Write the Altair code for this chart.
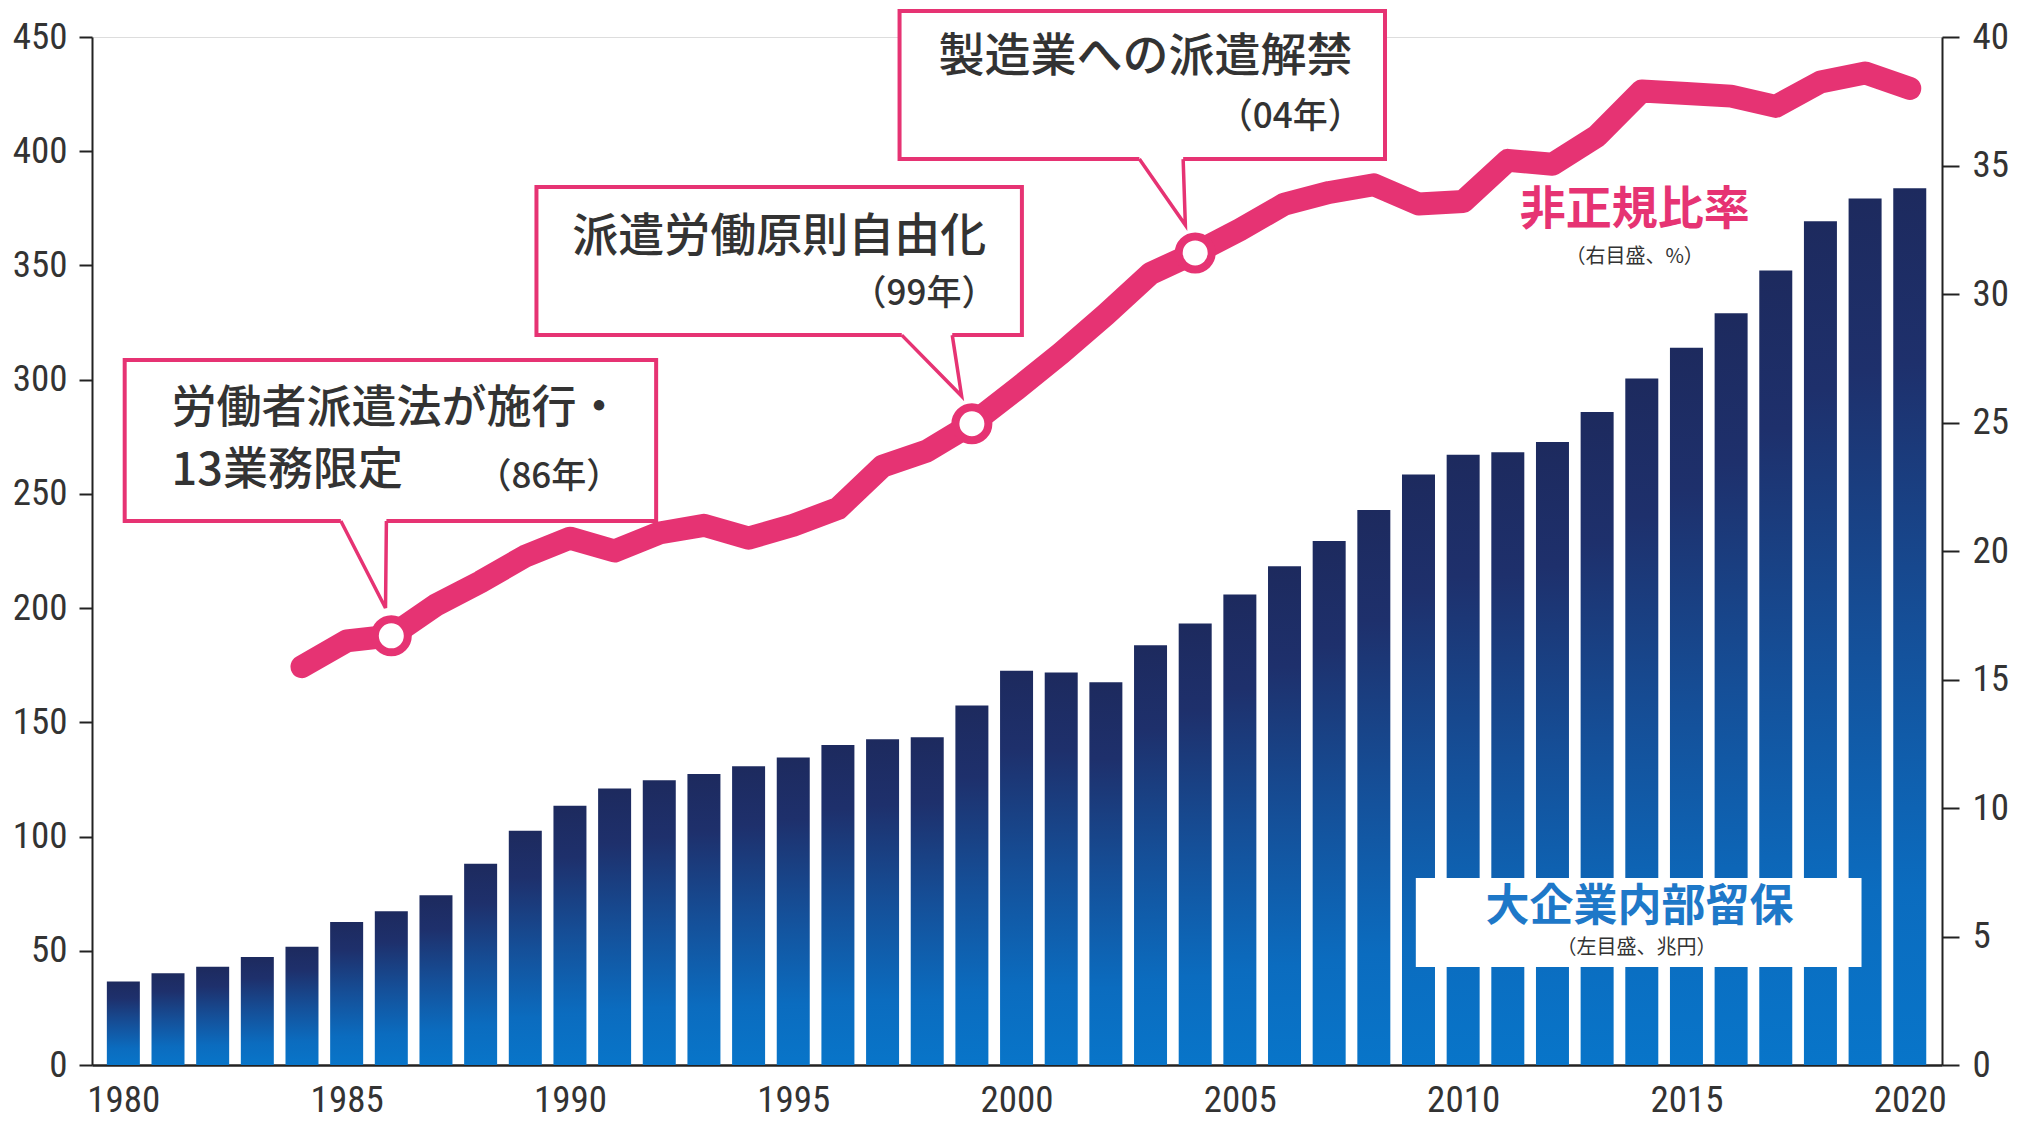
import altair as alt
import pandas as pd

# ---------------- data ----------------
years = list(range(1980, 2021))
retained = [36.5, 40.2, 43.0, 47.3, 51.8, 62.6, 67.3, 74.3, 88.1, 102.5,
            113.5, 121.0, 124.6, 127.4, 130.8, 134.6, 140.1, 142.6, 143.5, 157.4,
            172.6, 171.8, 167.6, 183.7, 193.3, 206.0, 218.3, 229.4, 243.0, 258.5,
            267.1, 268.2, 272.7, 285.8, 300.5, 314.0, 329.1, 347.8, 369.3, 379.3, 383.8]

ratio_years = list(range(1984, 2021))
ratio = [15.5, 16.5, 16.7, 17.9, 18.8, 19.8, 20.5, 20.0, 20.7, 21.0,
         20.5, 21.0, 21.65, 23.3, 23.9, 24.95, 26.3, 27.7, 29.2, 30.8,
         31.6, 32.5, 33.5, 33.95, 34.25, 33.5, 33.6, 35.2, 35.05, 36.15,
         37.9, 37.8, 37.7, 37.3, 38.25, 38.6, 38.0]

marker_years = [1986, 1999, 2004]

x_ticks = [1980, 1985, 1990, 1995, 2000, 2005, 2010, 2015, 2020]
left_ticks = [0, 50, 100, 150, 200, 250, 300, 350, 400, 450]
right_ticks = [0, 5, 10, 15, 20, 25, 30, 35, 40]

# callouts (in data units: year on x, percent on right axis)
box_id = ["86", "99", "04"]
box_x1 = [1980.03, 1989.25, 1997.38]
box_x2 = [1991.93, 2000.12, 2008.25]
box_y1 = [21.17, 28.40, 35.25]
box_y2 = [27.43, 34.16, 41.01]
ptr_left_x = [1984.87, 1997.43, 2002.75]
ptr_tip_x = [1985.87, 1998.77, 2003.78]
ptr_tip_y = [17.78, 26.03, 32.68]
ptr_right_x = [1985.89, 1998.56, 2003.73]

left_texts = ["労働者派遣法が施行・", "13業務限定"]
left_texts_x = [1981.08, 1981.08]
left_texts_y = [25.53, 23.11]

right_texts = ["派遣労働原則自由化", "製造業への派遣解禁"]
right_texts_x = [1999.32, 2007.52]
right_texts_y = [32.22, 39.22]

year_notes = ["（86年）", "（99年）", "（04年）"]
year_notes_x = [1991.15, 1999.55, 2007.75]
year_notes_y = [22.88, 30.00, 36.89]

# ---------------- styles ----------------
PINK = "#E63373"
BLUE_TXT = "#1E78C8"
DARK = "#333333"
JP = "Noto Sans CJK JP"
NUM = "Liberation Sans Narrow, Roboto Condensed, Noto Sans"

xscale = alt.Scale(domain=[1979.41, 2020.61], nice=False, zero=False)
pscale = alt.Scale(domain=[0, 40], nice=False, zero=True)

x_axis = alt.Axis(values=x_ticks, format="d", ticks=False, tickSize=0, grid=False,
                  labelPadding=17, labelFontSize=37, labelColor=DARK, labelFont=NUM,
                  domainColor="#222222", domainWidth=2.5, title=None, labelFlush=False)


def X(field):
    return alt.X(field, type="quantitative", scale=xscale, axis=x_axis)


def P(field, axis=None):
    return alt.Y(field, type="quantitative", scale=pscale, axis=axis)


bars_df = pd.DataFrame({"year": years, "value": retained})
ratio_df = pd.DataFrame({"year": ratio_years, "pct": ratio})
marker_df = ratio_df[ratio_df["year"].isin(marker_years)]

gradient = alt.Gradient(
    gradient="linear",
    stops=[
        alt.GradientStop(color="#1d2a5e", offset=0),
        alt.GradientStop(color="#1e306c", offset=0.2),
        alt.GradientStop(color="#154f98", offset=0.5),
        alt.GradientStop(color="#0b6cbf", offset=0.8),
        alt.GradientStop(color="#0875c9", offset=1),
    ],
    x1=0, x2=0, y1=0, y2=1,
)

bars = alt.Chart(bars_df).mark_bar(size=33, fill=gradient).encode(
    x=X("year"),
    y=alt.Y("value:Q", scale=alt.Scale(domain=[0, 450], nice=False),
            axis=alt.Axis(values=left_ticks, orient="left", tickSize=13, tickWidth=2,
                          tickColor="#222222", domainColor="#222222", domainWidth=2,
                          labelFontSize=37, labelColor=DARK, labelFont=NUM,
                          labelPadding=12, grid=False, title=None)),
)

# white label box for 大企業内部留保
label_box_df = pd.DataFrame({"x1": [2008.94], "x2": [2018.92], "y1": [3.81], "y2": [7.28]})
label_box = alt.Chart(label_box_df).mark_rect(fill="white").encode(
    x=X("x1"), x2="x2", y=P("y1"), y2="y2")

line = alt.Chart(ratio_df).mark_line(color=PINK, strokeWidth=23, strokeCap="round",
                                     strokeJoin="round").encode(
    x=X("year"),
    y=P("pct", alt.Axis(values=right_ticks, orient="right", tickSize=17, tickWidth=2,
                        tickColor="#222222", domainColor="#222222", domainWidth=2,
                        labelFontSize=37, labelColor=DARK, labelFont=NUM,
                        labelPadding=13, grid=False, title=None)),
)

markers = alt.Chart(marker_df).mark_point(shape="circle", filled=True, fill="white",
                                          stroke=PINK, strokeWidth=8, size=1089,
                                          opacity=1).encode(
    x=X("year"), y=P("pct"))

boxes_df = pd.DataFrame({"id": box_id, "x1": box_x1, "x2": box_x2, "y1": box_y1, "y2": box_y2})
boxes = alt.Chart(boxes_df).mark_rect(fill="white", stroke=PINK, strokeWidth=4).encode(
    x=X("x1"), x2="x2", y=P("y1"), y2="y2")

cover_df = pd.DataFrame({"id": box_id, "xa": ptr_left_x, "xb": ptr_right_x, "y": box_y1})
cover = alt.Chart(cover_df).mark_rule(color="white", strokeWidth=7).encode(
    x=X("xa"), x2="xb", y=P("y"))

ptr_rows = []
for i, b in enumerate(box_id):
    ptr_rows.append({"id": b, "o": 0, "x": ptr_left_x[i], "y": box_y1[i]})
    ptr_rows.append({"id": b, "o": 1, "x": ptr_tip_x[i], "y": ptr_tip_y[i]})
    ptr_rows.append({"id": b, "o": 2, "x": ptr_right_x[i], "y": box_y1[i]})
ptr_df = pd.DataFrame(ptr_rows)
pointers = alt.Chart(ptr_df).mark_line(color=PINK, strokeWidth=3.5, strokeJoin="miter").encode(
    x=X("x"), y=P("y"), detail="id:N", order="o:Q")

t_left = alt.Chart(pd.DataFrame({"t": left_texts, "x": left_texts_x, "y": left_texts_y})).mark_text(
    align="left", baseline="middle", font=JP, fontSize=45, fontWeight=500, color=DARK).encode(
    x=X("x"), y=P("y"), text="t:N")

t_right = alt.Chart(pd.DataFrame({"t": right_texts, "x": right_texts_x, "y": right_texts_y})).mark_text(
    align="right", baseline="middle", font=JP, fontSize=46, fontWeight=500, color=DARK).encode(
    x=X("x"), y=P("y"), text="t:N")

t_years = alt.Chart(pd.DataFrame({"t": year_notes, "x": year_notes_x, "y": year_notes_y})).mark_text(
    align="right", baseline="middle", font=JP, fontSize=35, fontWeight=500, color=DARK).encode(
    x=X("x"), y=P("y"), text="t:N")

t_pink = alt.Chart(pd.DataFrame({"t": ["非正規比率"], "x": [2013.84], "y": [33.25]})).mark_text(
    align="center", baseline="middle", font=JP, fontSize=46, fontWeight="bold", color=PINK).encode(
    x=X("x"), y=P("y"), text="t:N")

t_blue = alt.Chart(pd.DataFrame({"t": ["大企業内部留保"], "x": [2013.95], "y": [6.11]})).mark_text(
    align="center", baseline="middle", font=JP, fontSize=44, fontWeight="bold", color=BLUE_TXT).encode(
    x=X("x"), y=P("y"), text="t:N")

t_small = alt.Chart(pd.DataFrame({"t": ["（右目盛、%）", "（左目盛、兆円）"],
                                  "x": [2013.84, 2013.88], "y": [31.45, 4.55]})).mark_text(
    align="center", baseline="middle", font=JP, fontSize=20, color=DARK).encode(
    x=X("x"), y=P("y"), text="t:N")

chart = alt.layer(
    bars, label_box, line, markers, boxes, cover, pointers,
    t_left, t_right, t_years, t_pink, t_blue, t_small,
).resolve_scale(y="independent").properties(
    width=1850, height=1028,
    autosize=alt.AutoSizeParams(type="none"),
    padding={"left": 92, "top": 37, "right": 79, "bottom": 56},
).configure_view(stroke=None).configure(background="white")

chart.save("out.html", embed_options={"renderer": "svg", "actions": False})
